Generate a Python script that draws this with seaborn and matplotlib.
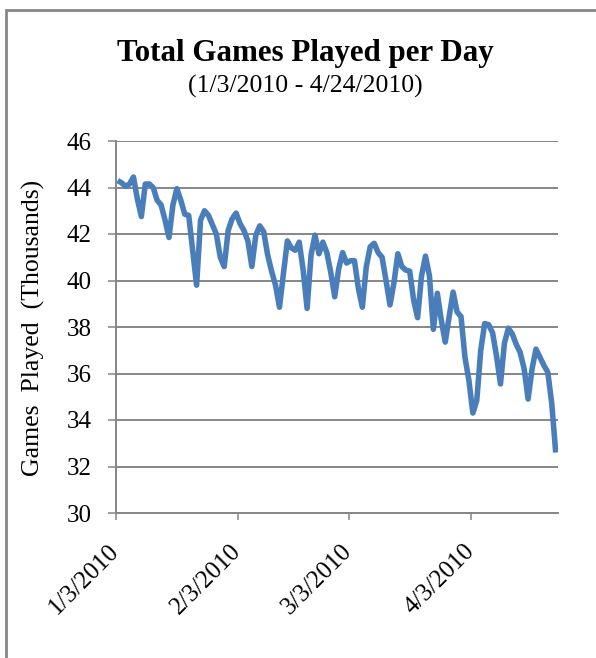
import matplotlib
matplotlib.use("Agg")
import matplotlib.pyplot as plt
import matplotlib.dates as mdates
from matplotlib.patches import Rectangle
import seaborn as sns
import pandas as pd
import numpy as np

# ---- data (thousands of games per day, 1/3/2010 - 4/24/2010) ----
start_date = "2010-01-03"
end_date = "2010-04-24"
games_played = [
    44.30, 44.20, 44.05, 44.15, 44.45, 43.50, 42.75,
    44.15, 44.15, 44.00, 43.45, 43.25, 42.60, 41.85,
    43.25, 43.95, 43.45, 42.85, 42.80, 41.30, 39.80,
    42.60, 43.00, 42.80, 42.40, 42.00, 41.00, 40.60,
    42.15, 42.65, 42.90, 42.45, 42.15, 41.70, 40.60,
    41.95, 42.35, 42.10, 41.10, 40.40, 39.80, 38.85,
    40.30, 41.70, 41.40, 41.30, 41.65, 40.45, 38.80,
    41.10, 41.95, 41.15, 41.65, 41.20, 40.35, 39.30,
    40.50, 41.20, 40.75, 40.85, 40.85, 39.65, 38.85,
    40.60, 41.45, 41.60, 41.20, 41.00, 40.00, 38.95,
    39.90, 41.15, 40.60, 40.45, 40.40, 39.15, 38.40,
    40.20, 41.05, 40.20, 37.90, 39.45, 38.30, 37.35,
    38.45, 39.50, 38.65, 38.45, 36.70, 35.70, 34.30,
    34.85, 37.00, 38.15, 38.10, 37.75, 36.75, 35.55,
    37.30, 37.95, 37.70, 37.25, 36.90, 36.20, 34.90,
    36.20, 37.05, 36.70, 36.35, 36.05, 34.70, 32.60,
]
tick_dates = ["2010-01-03", "2010-02-03", "2010-03-03", "2010-04-03"]
tick_labels = ["1/3/2010", "2/3/2010", "3/3/2010", "4/3/2010"]
y_ticks = [30, 32, 34, 36, 38, 40, 42, 44, 46]

title = "Total Games Played per Day"
subtitle = "(1/3/2010 - 4/24/2010)"
y_label = "Games  Played  (Thousands)"

# ---- build frame (points centered within each day, Excel-style) ----
days = pd.date_range(start_date, end_date, freq="D")
df = pd.DataFrame({"date": days + pd.Timedelta(hours=12), "games": games_played})

sns.set_theme(style="white")
plt.rcParams["font.family"] = ["Liberation Serif", "DejaVu Serif"]

W, H = 596, 658
fig = plt.figure(figsize=(W / 100, H / 100), dpi=100)
ax = fig.add_axes([115.7 / W, 1 - 513 / H, (557.7 - 115.7) / W, (513 - 141) / H])

grid_col = "#868686"
line_col = "#4A7EBB"

sns.lineplot(data=df, x="date", y="games", ax=ax, color=line_col,
             linewidth=4.0, solid_joinstyle="round", solid_capstyle="butt")

ax.set_xlim(pd.Timestamp(start_date), pd.Timestamp(end_date) + pd.Timedelta(days=1))
ax.set_ylim(30, 46)
ax.set_yticks(y_ticks)
ax.set_yticklabels([str(v) for v in y_ticks])
ax.set_xticks([pd.Timestamp(d) for d in tick_dates])
ax.set_xticklabels(tick_labels, rotation=45, ha="right", va="center",
                   rotation_mode="anchor")

ax.set_xlabel("")
ax.set_ylabel("")
ax.yaxis.grid(True, color=grid_col, linewidth=1.4)
ax.xaxis.grid(False)
ax.set_axisbelow(True)

for s in ["top", "right"]:
    ax.spines[s].set_visible(False)
for s in ["left", "bottom"]:
    ax.spines[s].set_color(grid_col)
    ax.spines[s].set_linewidth(1.4)

ax.tick_params(axis="y", direction="out", length=5.8, width=1.1, color=grid_col,
               pad=11.5, labelsize=18, labelcolor="black", left=True)
ax.tick_params(axis="x", direction="out", length=5.0, width=1.1, color=grid_col,
               pad=20, labelsize=18, labelcolor="black", bottom=True)

# titles and y label
fig.text(305.5 / W, 1 - 60.7 / H, title, ha="center", va="baseline",
         fontsize=22.3, fontweight="bold", color="black")
fig.text(305.5 / W, 1 - 92.5 / H, subtitle, ha="center", va="baseline",
         fontsize=18.5, color="black")
fig.text(33 / W, 1 - 328 / H, y_label, ha="center", va="center",
         rotation=90, fontsize=18.5, color="black")

# outer chart border (runs off right/bottom edges)
fig.patches.append(Rectangle((5.7 / W, -0.1), 1.2, 1 - 10.5 / H + 0.1,
                             transform=fig.transFigure, fill=False,
                             edgecolor=grid_col, linewidth=2.0, zorder=10))

fig.savefig("out.png", dpi=100, facecolor="white")
